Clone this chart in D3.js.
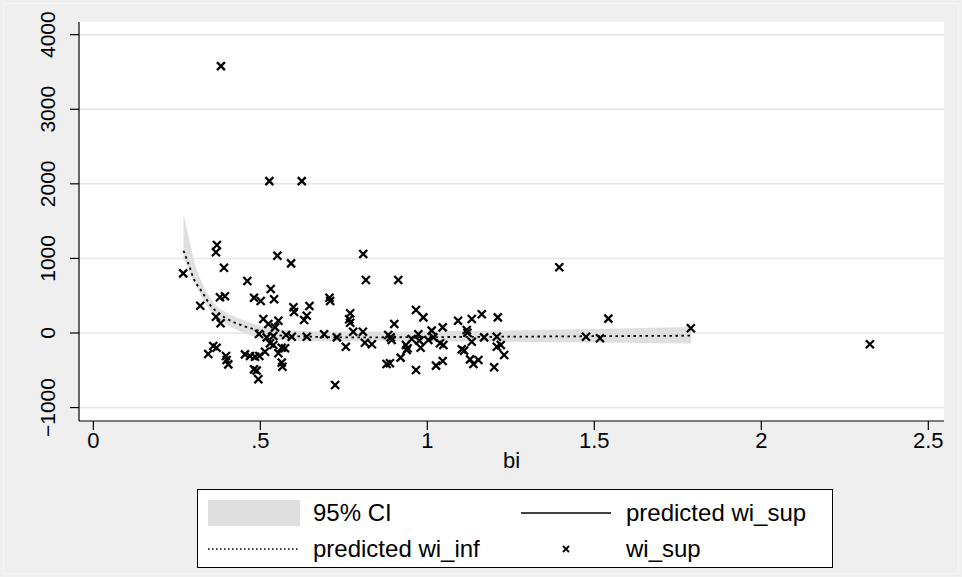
<!DOCTYPE html>
<html>
<head>
<meta charset="utf-8">
<script src="https://cdn.jsdelivr.net/npm/d3@7"></script>
<style>
body { margin: 0; background: #efefef; }
text { font-family: "Liberation Sans", Arial, sans-serif; fill: #000; }
</style>
</head>
<body>
<div id="chart"></div>
<script>
/*------   data   ----- */
const bi = [0.269, 0.370, 0.367, 0.551, 0.592, 0.391, 0.461, 0.531, 0.379, 0.394,
    0.481, 0.501, 0.541, 0.320, 0.599, 0.601, 0.647, 0.707, 0.709, 0.639,
    0.631, 0.367, 0.381, 0.509, 0.524, 0.554, 0.544, 0.496, 0.519, 0.539,
    0.577, 0.594, 0.639, 0.691, 0.729, 0.529, 0.539, 0.359, 0.369, 0.344,
    0.397, 0.399, 0.404, 0.454, 0.469, 0.484, 0.497, 0.514, 0.554, 0.574,
    0.564, 0.564, 0.566, 0.481, 0.489, 0.494, 0.724, 0.808, 0.816, 0.913,
    0.769, 0.766, 0.769, 0.756, 0.778, 0.807, 0.813, 0.834, 0.901, 0.883,
    0.890, 0.893, 0.878, 0.888, 0.920, 0.936, 0.941, 0.938, 0.953, 0.973,
    0.980, 0.976, 0.966, 0.988, 0.966, 1.013, 1.018, 1.003, 1.046, 1.038,
    1.048, 1.026, 1.046, 1.092, 1.133, 1.163, 1.118, 1.120, 1.133, 1.103,
    1.110, 1.128, 1.138, 1.153, 1.170, 1.200, 1.211, 1.208, 1.208, 1.220,
    1.230, 1.395, 1.542, 1.475, 1.517, 1.789, 2.325, 0.527, 0.624, 0.382];

const wiSup = [800, 1180, 1082, 1036, 934, 875, 697, 590, 479, 492,
    473, 429, 452, 366, 345, 281, 362, 473, 429, 232,
    174, 218, 130, 188, 121, 165, 76, -13, -58, -40,
    -27, -50, -50, -17, -58, -138, -161, -174, -197, -281,
    -308, -362, -420, -286, -308, -318, -308, -251, -272, -205,
    -197, -398, -452, -487, -505, -621, -697, 1059, 710, 710,
    264, 184, 138, -184, 17, 17, -130, -151, 121, -27,
    -58, -94, -416, -406, -331, -161, -205, -228, -80, -17,
    -197, -103, 308, 210, -496, 31, -58, -94, 76, -138,
    -161, -438, -375, 165, 188, 251, 40, 4, -117, -218,
    -237, -353, -416, -362, -58, -460, 210, -50, -184, -161,
    -295, 881, 192, -50, -71, 63, -151, 2037, 2037, 3579];

// fitted curve for wi_inf and its 95% CI
const fitBi = [0.27, 0.28, 0.29, 0.30, 0.31, 0.325, 0.35, 0.375, 0.40, 0.45,
    0.50, 0.55, 0.60, 0.65, 0.73, 0.90, 1.10, 1.30, 1.50, 1.79];
const fitWiInf = [1103, 985, 860, 730, 650, 554, 375, 264, 190, 94,
    27, -27, -42, -50, -58, -57, -53, -48, -43, -36];
const ciHigh = [1595, 1400, 1200, 1000, 845, 680, 470, 345, 270, 170,
    94, 55, 35, 25, 20, 20, 27, 37, 52, 80];
const ciLow = [1000, 900, 790, 690, 610, 480, 300, 190, 107, 5,
    -71, -95, -105, -110, -112, -112, -115, -120, -127, -140];

const yTicks = [-1000, 0, 1000, 2000, 3000, 4000];
const yTickLabels = ["\u22121000", "0", "1000", "2000", "3000", "4000"];
const xTicks = [0, 0.5, 1, 1.5, 2, 2.5];
const xTickLabels = ["0", ".5", "1", "1.5", "2", "2.5"];
const xTitle = "bi";
const legendLabels = ["95% CI", "predicted wi_sup", "predicted wi_inf", "wi_sup"];

/*------   chart   ----- */
const width = 962, height = 577;
const plot = { left: 79, right: 944, top: 22, bottom: 421 };

const svg = d3.select("#chart").append("svg")
    .attr("width", width)
    .attr("height", height)
    .style("display", "block");

svg.append("rect")
    .attr("width", width)
    .attr("height", height)
    .attr("fill", "#efefef");

svg.append("rect")
    .attr("x", 3.5).attr("y", 3.5)
    .attr("width", width - 7)
    .attr("height", height - 7)
    .attr("fill", "none")
    .attr("stroke", "#f6f6f6")
    .attr("stroke-width", 1);

svg.append("rect")
    .attr("x", plot.left)
    .attr("y", plot.top)
    .attr("width", plot.right - plot.left)
    .attr("height", plot.bottom - plot.top)
    .attr("fill", "#fff");

const x = d3.scaleLinear().domain([-0.043, 2.547]).range([plot.left, plot.right]);
const y = d3.scaleLinear().domain([-1180, 4170]).range([plot.bottom, plot.top]);

// horizontal grid
svg.append("g").selectAll("line")
    .data(yTicks)
    .join("line")
    .attr("x1", plot.left)
    .attr("x2", plot.right)
    .attr("y1", d => y(d))
    .attr("y2", d => y(d))
    .attr("stroke", "#e6e6e6")
    .attr("stroke-width", 1.5);

// CI band
const fitData = fitBi.map((b, i) => ({ b: b, fit: fitWiInf[i], lo: ciLow[i], hi: ciHigh[i] }));

svg.append("path")
    .datum(fitData)
    .attr("fill", "#dfdfdf")
    .attr("d", d3.area()
        .x(d => x(d.b))
        .y0(d => y(d.lo))
        .y1(d => y(d.hi))
        .curve(d3.curveMonotoneX));

svg.append("path")
    .datum(fitData)
    .attr("fill", "none")
    .attr("stroke", "#000")
    .attr("stroke-width", 1.8)
    .attr("stroke-dasharray", "2.5,3.5")
    .attr("d", d3.line()
        .x(d => x(d.b))
        .y(d => y(d.fit))
        .curve(d3.curveMonotoneX));

// scatter markers
const cross = "M-4,-4L4,4M-4,4L4,-4";
svg.append("g").selectAll("path")
    .data(bi.map((b, i) => ({ b: b, w: wiSup[i] })))
    .join("path")
    .attr("transform", d => `translate(${x(d.b)},${y(d.w)})`)
    .attr("d", cross)
    .attr("stroke", "#000")
    .attr("stroke-width", 2.3)
    .attr("fill", "none");

// y axis
const yAxis = svg.append("g");
yAxis.append("line")
    .attr("x1", plot.left).attr("x2", plot.left)
    .attr("y1", plot.top).attr("y2", plot.bottom)
    .attr("stroke", "#000").attr("stroke-width", 1.2);
yAxis.selectAll(".tick")
    .data(yTicks)
    .join("line")
    .attr("x1", plot.left - 9).attr("x2", plot.left)
    .attr("y1", d => y(d)).attr("y2", d => y(d))
    .attr("stroke", "#000").attr("stroke-width", 1.2);
yAxis.selectAll("text")
    .data(yTicks)
    .join("text")
    .attr("transform", d => `translate(55,${y(d)}) rotate(-90)`)
    .attr("text-anchor", "middle")
    .style("font-size", "21px")
    .text((d, i) => yTickLabels[i]);

// x axis
const xAxis = svg.append("g");
xAxis.append("line")
    .attr("x1", plot.left).attr("x2", plot.right)
    .attr("y1", plot.bottom).attr("y2", plot.bottom)
    .attr("stroke", "#000").attr("stroke-width", 1.2);
xAxis.selectAll(".tick")
    .data(xTicks)
    .join("line")
    .attr("x1", d => x(d)).attr("x2", d => x(d))
    .attr("y1", plot.bottom).attr("y2", plot.bottom + 9)
    .attr("stroke", "#000").attr("stroke-width", 1.2);
xAxis.selectAll("text")
    .data(xTicks)
    .join("text")
    .attr("x", d => x(d))
    .attr("y", 448)
    .attr("text-anchor", "middle")
    .style("font-size", "22px")
    .text((d, i) => xTickLabels[i]);

svg.append("text")
    .attr("x", (plot.left + plot.right) / 2)
    .attr("y", 468)
    .attr("text-anchor", "middle")
    .style("font-size", "22px")
    .text(xTitle);

/*------   legend   ----- */
const legend = svg.append("g");
legend.append("rect")
    .attr("x", 197.5).attr("y", 489.5)
    .attr("width", 635).attr("height", 78)
    .attr("fill", "#fff")
    .attr("stroke", "#000")
    .attr("stroke-width", 1);

legend.append("rect")
    .attr("x", 208).attr("y", 500)
    .attr("width", 92).attr("height", 26)
    .attr("fill", "#dfdfdf");

legend.append("line")
    .attr("x1", 521).attr("x2", 611)
    .attr("y1", 513).attr("y2", 513)
    .attr("stroke", "#000").attr("stroke-width", 1.5);

legend.append("line")
    .attr("x1", 208).attr("x2", 298)
    .attr("y1", 549).attr("y2", 549)
    .attr("stroke", "#000").attr("stroke-width", 1.5)
    .attr("stroke-dasharray", "1.5,2.5");

legend.append("path")
    .attr("transform", "translate(566,549)")
    .attr("d", "M-3,-3L3,3M-3,3L3,-3")
    .attr("stroke", "#000").attr("stroke-width", 1.8);

const legendPos = [[313, 513], [626, 513], [313, 549], [626, 549]];
legend.selectAll("text.lab")
    .data(legendLabels)
    .join("text")
    .attr("class", "lab")
    .attr("x", (d, i) => legendPos[i][0])
    .attr("y", (d, i) => legendPos[i][1])
    .attr("dy", "0.35em")
    .style("font-size", "24px")
    .text(d => d);
</script>
</body>
</html>
